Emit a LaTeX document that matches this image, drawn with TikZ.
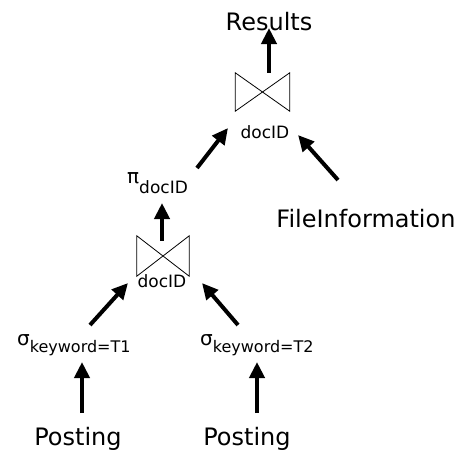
\documentclass[tikz,border=0pt]{standalone}
\usepackage{fontspec}
\setmainfont{DejaVu Sans}
\usetikzlibrary{arrows.meta}
\begin{document}
\begin{tikzpicture}[x=1pt,y=-1pt,
  big/.style={font=\fontsize{24}{28}\selectfont, inner sep=0pt},
  small/.style={font=\fontsize{17}{20}\selectfont, inner sep=0pt},
  greek/.style={font=\fontsize{20}{24}\selectfont, inner sep=0pt},
  joinbox/.style={minimum width=54pt, minimum height=38pt, inner sep=0pt},
  tie/.style={line width=0.8pt},
  arr/.style={line width=4pt, -{Triangle[length=16pt,width=15pt]}}]
\useasboundingbox (0,0) rectangle (471,456);
% nodes
\node[big, anchor=base] (res) at (269,30) {Results};
\node[joinbox] (j1) at (262.5,92) {};
\node[small, anchor=base] (j1lab) at (265,138) {docID};
\node[greek, anchor=base west] (pi) at (127,183) {π\raisebox{-10pt}{\fontsize{17}{20}\selectfont docID}};
\node[big, anchor=base] (fi) at (366,227) {FileInformation};
\node[joinbox, minimum width=52pt, minimum height=40pt] (j2) at (163,256) {};
\node[small, anchor=base] (j2lab) at (162,287) {docID};
\node[greek, anchor=base west] (s1) at (17,345) {σ\raisebox{-7pt}{\fontsize{16}{19}\selectfont keyword=T1}};
\node[greek, anchor=base west] (s2) at (200,345) {σ\raisebox{-7pt}{\fontsize{16}{19}\selectfont keyword=T2}};
\node[big, anchor=base] (p1) at (78,445) {Posting};
\node[big, anchor=base] (p2) at (247,445) {Posting};
% join symbols
\draw[tie] (j1.north west) -- (j1.south east) -- (j1.north east) -- (j1.south west) -- cycle;
\draw[tie] (j2.north west) -- (j2.south east) -- (j2.north east) -- (j2.south west) -- cycle;
% connectors
\draw[arr] (j1.north -| res.base) -- ([yshift=2]res.base);
\draw[arr] ([shift={(-1,5)}]j2.north) -- ([shift={(35,20)}]pi.base west);
\draw[arr] ([shift={(70,-15)}]pi.base west) -- ([shift={(-37,-10)}]j1lab.base);
\draw[arr] ([shift={(-28,-47)}]fi.base) -- ([shift={(33,-3)}]j1lab.base);
\draw[arr] ([shift={(73,-20)}]s1.base west) -- ([shift={(-34,-4)}]j2lab.base);
\draw[arr] ([shift={(38,-20)}]s2.base west) -- ([shift={(40,-4)}]j2lab.base);
\draw[arr] ([shift={(4,-32)}]p1.base) -- ([shift={(65,17)}]s1.base west);
\draw[arr] ([shift={(10,-32)}]p2.base) -- ([shift={(57,17)}]s2.base west);
\end{tikzpicture}
\end{document}
